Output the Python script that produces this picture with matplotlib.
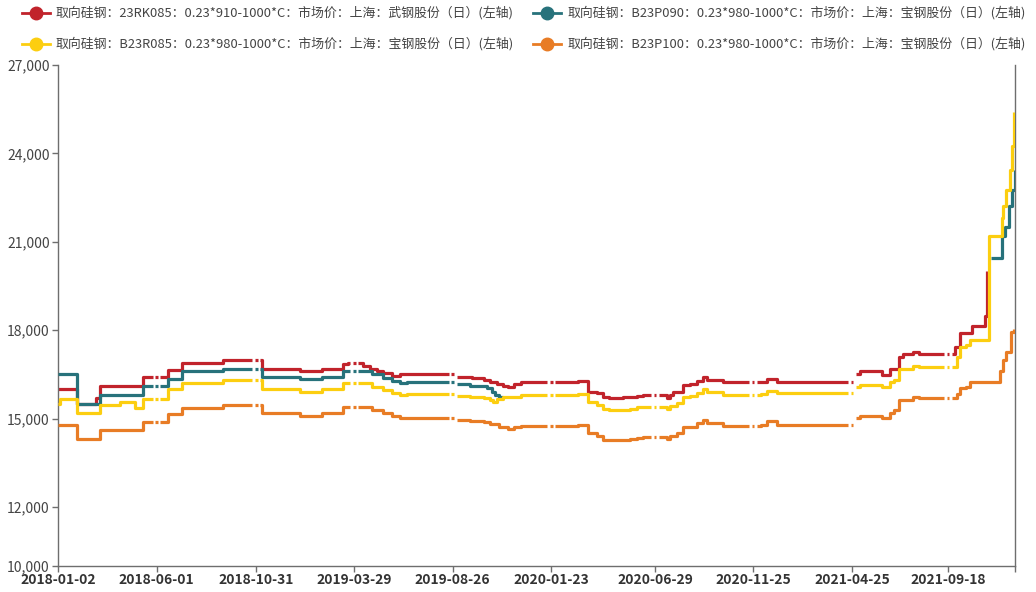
import numpy as np
import pandas as pd
import matplotlib
matplotlib.use("Agg")
import matplotlib.pyplot as plt
import matplotlib.dates as mdates
from matplotlib.lines import Line2D
from matplotlib.ticker import FuncFormatter

plt.rcParams['font.family'] = ['Noto Sans CJK SC', 'DejaVu Sans']

# 取向硅钢 市场价 (元/吨), change points of each daily series
red_dates = ["2018-01-02", "2018-01-31", "2018-03-01", "2018-03-07", "2018-05-11", "2018-06-18",
             "2018-07-10", "2018-09-10", "2018-11-08", "2019-01-05", "2019-02-08", "2019-03-12",
             "2019-03-20", "2019-04-11", "2019-04-22", "2019-05-02", "2019-05-12", "2019-05-25",
             "2019-06-06", "2019-09-01", "2019-09-25", "2019-10-12", "2019-10-22", "2019-11-01",
             "2019-11-10", "2019-11-18", "2019-11-28", "2019-12-08", "2020-03-04", "2020-03-19",
             "2020-04-01", "2020-04-11", "2020-04-20", "2020-05-11", "2020-05-22", "2020-06-01",
             "2020-06-10", "2020-06-21", "2020-07-17", "2020-07-21", "2020-07-26", "2020-08-10",
             "2020-08-21", "2020-09-01", "2020-09-10", "2020-09-16", "2020-10-10", "2020-12-08",
             "2020-12-16", "2020-12-31", "2021-04-30", "2021-05-07", "2021-06-09", "2021-06-21",
             "2021-07-06", "2021-07-11", "2021-07-26", "2021-08-05", "2021-09-28", "2021-10-06",
             "2021-10-24", "2021-11-14", "2021-11-17"]
red_vals = [16000, 15500, 15700, 16100, 16400, 16650,
            16900, 17000, 16700, 16600, 16700, 16850,
            16900, 16800, 16700, 16600, 16550, 16450,
            16500, 16420, 16370, 16320, 16250, 16180,
            16120, 16080, 16170, 16230, 16280, 15920,
            15860, 15720, 15690, 15720, 15740, 15760,
            15790, 15800, 15700, 15800, 15920, 16140,
            16170, 16280, 16400, 16310, 16230, 16260,
            16350, 16250, 16520, 16600, 16480, 16700,
            17100, 17200, 17270, 17200, 17440, 17900,
            18150, 18500, 20000]

teal_dates = ["2018-01-02", "2018-01-31", "2018-03-07", "2018-05-11", "2018-06-18", "2018-07-10",
              "2018-09-10", "2018-11-08", "2019-01-05", "2019-02-08", "2019-03-12", "2019-04-25",
              "2019-05-12", "2019-05-25", "2019-06-06", "2019-06-17", "2019-09-01", "2019-09-21",
              "2019-10-17", "2019-10-24", "2019-10-30", "2019-11-04", "2019-11-11",
              "2021-11-22", "2021-12-09", "2021-12-14", "2021-12-20", "2021-12-25", "2021-12-29"]
teal_vals = [16500, 15500, 15800, 16100, 16350, 16600,
             16700, 16400, 16350, 16400, 16600, 16500,
             16370, 16280, 16200, 16230, 16160, 16110,
             16050, 15900, 15800, 15750, np.nan,
             20450, 21200, 21500, 22200, 22750, 23450]

yellow_dates = ["2018-01-02", "2018-01-05", "2018-01-31", "2018-03-07", "2018-04-06", "2018-04-29",
                "2018-05-11", "2018-06-18", "2018-07-10", "2018-09-10", "2018-11-08", "2019-01-05",
                "2019-02-08", "2019-03-12", "2019-04-25", "2019-05-12", "2019-05-25", "2019-06-06",
                "2019-06-17", "2019-09-01", "2019-09-21", "2019-10-12", "2019-10-22", "2019-10-26",
                "2019-11-01", "2019-11-10", "2019-11-20", "2019-12-08", "2020-03-04", "2020-03-19",
                "2020-04-01", "2020-04-11", "2020-04-20", "2020-05-11", "2020-05-22", "2020-06-01",
                "2020-06-10", "2020-07-17", "2020-07-21", "2020-08-01", "2020-08-10", "2020-08-21",
                "2020-09-01", "2020-09-10", "2020-09-16", "2020-10-10", "2020-12-08", "2020-12-16",
                "2020-12-31", "2021-04-30", "2021-05-07", "2021-06-09", "2021-06-21", "2021-06-28",
                "2021-07-06", "2021-07-26", "2021-08-05", "2021-10-01", "2021-10-06", "2021-10-16",
                "2021-10-22", "2021-11-20", "2021-12-09", "2021-12-11", "2021-12-16", "2021-12-21",
                "2021-12-25", "2021-12-28"]
yellow_vals = [15500, 15650, 15200, 15450, 15550, 15350,
               15650, 16000, 16200, 16300, 16000, 15900,
               16000, 16200, 16080, 15970, 15880, 15800,
               15840, 15760, 15720, 15690, 15630, 15580,
               15680, 15720, 15750, 15800, 15840, 15580,
               15470, 15330, 15290, 15300, 15340, 15380,
               15400, 15320, 15430, 15520, 15740, 15770,
               15860, 15990, 15910, 15800, 15830, 15940,
               15860, 16080, 16150, 16060, 16250, 16300,
               16700, 16800, 16750, 17100, 17440, 17500,
               17680, 21200, 21800, 22200, 22750, 23450,
               24250, 25400]

orange_dates = ["2018-01-02", "2018-01-31", "2018-03-07", "2018-05-11", "2018-06-18", "2018-07-10",
                "2018-09-10", "2018-11-08", "2019-01-05", "2019-02-08", "2019-03-12", "2019-04-25",
                "2019-05-12", "2019-05-25", "2019-06-06", "2019-09-01", "2019-09-21", "2019-10-12",
                "2019-10-22", "2019-11-04", "2019-11-18", "2019-11-28", "2019-12-08", "2020-03-04",
                "2020-03-19", "2020-04-01", "2020-04-11", "2020-05-11", "2020-05-22", "2020-06-01",
                "2020-06-10", "2020-07-17", "2020-07-21", "2020-08-01", "2020-08-10", "2020-08-21",
                "2020-09-01", "2020-09-10", "2020-09-16", "2020-10-10", "2020-12-08", "2020-12-16",
                "2020-12-31", "2021-04-30", "2021-05-07", "2021-06-09", "2021-06-21", "2021-06-28",
                "2021-07-06", "2021-07-26", "2021-08-05", "2021-10-01", "2021-10-06", "2021-10-16",
                "2021-10-22", "2021-12-06", "2021-12-10", "2021-12-16", "2021-12-23", "2021-12-28"]
orange_vals = [14800, 14300, 14600, 14900, 15150, 15350,
               15450, 15200, 15100, 15200, 15400, 15300,
               15180, 15080, 15010, 14970, 14930, 14900,
               14830, 14720, 14660, 14720, 14760, 14800,
               14500, 14400, 14280, 14290, 14320, 14350,
               14370, 14300, 14400, 14500, 14700, 14720,
               14840, 14950, 14860, 14760, 14780, 14920,
               14800, 15030, 15100, 15010, 15200, 15290,
               15630, 15750, 15700, 15850, 16030, 16080,
               16250, 16600, 17000, 17250, 17950, 18050]

tick_dates = ["2018-01-02", "2018-06-01", "2018-10-31", "2019-03-29", "2019-08-26",
              "2020-01-23", "2020-06-29", "2020-11-25", "2021-04-25", "2021-09-18"]
end_date = "2021-12-29"
y_ticks = [10000, 12000, 15000, 18000, 21000, 24000, 27000]

series = [
    ("取向硅钢：23RK085：0.23*910-1000*C：市场价：上海：武钢股份（日）(左轴)", "#C1232B", red_dates, red_vals),
    ("取向硅钢：B23P090：0.23*980-1000*C：市场价：上海：宝钢股份（日）(左轴)", "#27727B", teal_dates, teal_vals),
    ("取向硅钢：B23R085：0.23*980-1000*C：市场价：上海：宝钢股份（日）(左轴)", "#FCCE10", yellow_dates, yellow_vals),
    ("取向硅钢：B23P100：0.23*980-1000*C：市场价：上海：宝钢股份（日）(左轴)", "#E87C25", orange_dates, orange_vals),
]


def with_breaks(dates, vals, centers, half_gap=6, half_dot=2):
    """Insert the short missing stretches around each labelled date."""
    s = pd.Series(np.asarray(vals, float), index=pd.to_datetime(dates))

    def at(t):
        return s[s.index <= t].iloc[-1]

    out = s.copy()
    for c in pd.to_datetime(centers):
        if c <= s.index[0] or c >= s.index[-1] or np.isnan(at(c)):
            continue
        a = c - pd.Timedelta(days=half_gap)
        b = c - pd.Timedelta(days=half_dot)
        e = c + pd.Timedelta(days=half_dot)
        f = c + pd.Timedelta(days=half_gap)
        v_dot, v_after = at(b), at(f)
        out = out[(out.index < a) | (out.index > f)]
        extra = pd.Series([np.nan, v_dot, np.nan, v_after], index=[a, b, e, f])
        out = pd.concat([out, extra]).sort_index()
    return out


W, H = 1036, 592
fig = plt.figure(figsize=(W / 100, H / 100), dpi=100)
ax = fig.add_axes([58 / W, 26 / H, 957 / W, 501 / H])

for i, (label, color, d, v) in enumerate(series):
    s = with_breaks(d, v, tick_dates[1:])
    ax.plot(s.index, s.values, color=color, lw=2.3, drawstyle="steps-post",
            solid_capstyle="butt", zorder=2 + i)

ax.set_xlim(pd.Timestamp(tick_dates[0]), pd.Timestamp(end_date))
ax.set_ylim(y_ticks[0], y_ticks[-1])
ax.set_yticks(y_ticks)
ax.yaxis.set_major_formatter(FuncFormatter(lambda v, p: f"{int(v):,}"))
ax.set_xticks(pd.to_datetime(tick_dates))
ax.set_xticks([pd.Timestamp(end_date)], minor=True)
ax.xaxis.set_major_formatter(mdates.DateFormatter("%Y-%m-%d"))

ax.spines["top"].set_visible(False)
for side in ["left", "bottom", "right"]:
    ax.spines[side].set_color("#6e6e6e")
    ax.spines[side].set_linewidth(1.0)

ax.tick_params(axis="y", length=4, width=1, color="#6e6e6e", labelsize=10,
               labelcolor="#444444", pad=2)
ax.tick_params(axis="x", which="both", length=4, width=1, color="#6e6e6e",
               labelsize=10, labelcolor="#333333", pad=1)
for t in ax.get_xticklabels():
    t.set_fontweight("bold")

# legend, two rows of two entries
icon_x = [36, 547]
text_x = [55, 567]
row_y = [12.5, 43.5]
for i, (label, color, _, _) in enumerate(series):
    col, row = i % 2, i // 2
    cx, cy = icon_x[col], row_y[row]
    fy = 1 - cy / H
    fig.add_artist(Line2D([(cx - 14) / W, (cx + 14) / W], [fy, fy], color=color, lw=2,
                          transform=fig.transFigure))
    fig.add_artist(Line2D([cx / W], [fy], color=color, marker="o", markersize=9,
                          transform=fig.transFigure))
    fig.text(text_x[col] / W, fy, label, fontsize=9.3, color="#444444",
             ha="left", va="center")

fig.savefig("out.png", dpi=100)
